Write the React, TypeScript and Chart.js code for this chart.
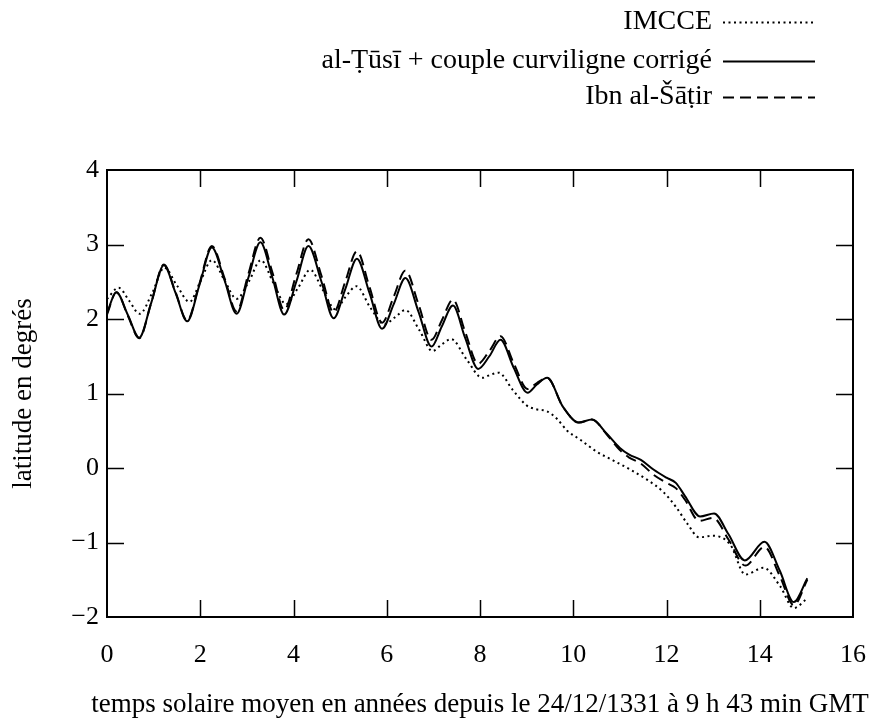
import React, { useEffect, useRef } from 'react';
import { Chart, registerables } from 'chart.js';

Chart.register(...registerables);

// ---- Data ----
const xTickValues = [0, 2, 4, 6, 8, 10, 12, 14, 16];
const yTickValues = [-2, -1, 0, 1, 2, 3, 4];

const seriesLabels = ['IMCCE', 'al-Ṭūsī + couple curviligne corrigé', 'Ibn al-Šāṭir'];

const imcceYears = [0.0, 0.25, 0.47, 0.7, 0.97, 1.23, 1.5, 1.77, 2.0, 2.25, 2.52, 2.78, 3.04, 3.3, 3.57, 3.84, 4.1, 4.36, 4.62, 4.9, 5.12, 5.35, 5.65, 5.95, 6.17, 6.4, 6.7, 6.98, 7.18, 7.38, 7.72, 8.05, 8.22, 8.4, 8.7, 9.0, 9.2, 9.44, 9.65, 9.87, 10.15, 10.5, 10.86, 11.22, 11.59, 11.93, 12.2, 12.45, 12.7, 13.0, 13.37, 13.69, 14.08, 14.44, 14.73, 15.02];
const imcceLat = [2.27, 2.42, 2.25, 2.07, 2.35, 2.69, 2.45, 2.23, 2.5, 2.79, 2.52, 2.27, 2.5, 2.79, 2.48, 2.2, 2.42, 2.66, 2.4, 2.13, 2.3, 2.44, 2.15, 1.93, 2.02, 2.12, 1.85, 1.57, 1.66, 1.73, 1.45, 1.21, 1.25, 1.28, 1.05, 0.84, 0.79, 0.76, 0.66, 0.5, 0.38, 0.22, 0.1, -0.02, -0.16, -0.32, -0.52, -0.75, -0.93, -0.91, -1.03, -1.43, -1.34, -1.59, -1.88, -1.75];

const tusiYears = [0.0, 0.2, 0.45, 0.69, 0.95, 1.22, 1.47, 1.72, 1.98, 2.25, 2.52, 2.78, 3.03, 3.29, 3.55, 3.8, 4.06, 4.32, 4.6, 4.86, 5.11, 5.36, 5.63, 5.9, 6.15, 6.4, 6.68, 6.96, 7.18, 7.42, 7.68, 7.96, 8.2, 8.44, 8.72, 9.02, 9.22, 9.44, 9.78, 10.12, 10.4, 10.72, 11.0, 11.2, 11.45, 11.72, 12.0, 12.2, 12.4, 12.72, 13.02, 13.33, 13.68, 14.1, 14.43, 14.73, 15.02];
const tusiLat = [2.08, 2.36, 2.05, 1.75, 2.22, 2.72, 2.35, 1.97, 2.45, 2.96, 2.52, 2.07, 2.55, 3.03, 2.55, 2.06, 2.5, 2.98, 2.5, 2.01, 2.4, 2.81, 2.35, 1.87, 2.2, 2.55, 2.1, 1.63, 1.9, 2.18, 1.75, 1.33, 1.5, 1.72, 1.35, 1.01, 1.12, 1.21, 0.82, 0.61, 0.65, 0.46, 0.27, 0.18, 0.11, -0.02, -0.13, -0.2, -0.38, -0.65, -0.61, -0.89, -1.24, -0.99, -1.38, -1.8, -1.48];

const shatirYears = [0.0, 0.2, 0.45, 0.69, 0.95, 1.22, 1.47, 1.72, 1.98, 2.25, 2.52, 2.78, 3.03, 3.29, 3.55, 3.8, 4.06, 4.32, 4.6, 4.86, 5.11, 5.36, 5.63, 5.9, 6.15, 6.4, 6.68, 6.96, 7.18, 7.42, 7.68, 7.96, 8.2, 8.44, 8.72, 9.02, 9.22, 9.44, 9.78, 10.12, 10.4, 10.72, 11.0, 11.2, 11.45, 11.72, 12.0, 12.2, 12.4, 12.7, 13.0, 13.33, 13.69, 14.1, 14.43, 14.73, 15.02];
const shatirLat = [2.06, 2.36, 2.04, 1.74, 2.22, 2.73, 2.36, 1.98, 2.47, 2.98, 2.55, 2.1, 2.6, 3.09, 2.62, 2.12, 2.6, 3.07, 2.58, 2.09, 2.5, 2.91, 2.43, 1.95, 2.3, 2.65, 2.2, 1.72, 1.98, 2.26, 1.83, 1.4, 1.57, 1.77, 1.41, 1.06, 1.14, 1.21, 0.82, 0.61, 0.65, 0.45, 0.24, 0.14, 0.06, -0.09, -0.2, -0.27, -0.43, -0.71, -0.67, -0.96, -1.31, -1.06, -1.45, -1.84, -1.5];

const xTitle = 'temps solaire moyen en années depuis le 24/12/1331 à 9 h 43 min GMT';
const yTitle = 'latitude en degrés';

const FONT = '"Liberation Serif", "DejaVu Serif", serif';
const TEXT_SIZE = 27;
const LEGEND_SIZE = 28;
const TICK_SIZE = 26;
const W = 877;
const H = 722;

function toPoints(xs: number[], ys: number[]) {
  return xs.map((x, i) => ({ x, y: ys[i] }));
}

export default function App() {
  const ref = useRef<HTMLCanvasElement | null>(null);

  useEffect(() => {
    if (!ref.current) return;

    const framePlugin = {
      id: 'gnuplotFrame',
      afterDatasetsDraw(chart: any) {
        const { ctx, chartArea: a, scales } = chart;
        const xs = scales.x;
        const ys = scales.y;
        const tl = 17;
        ctx.save();
        ctx.strokeStyle = '#000';
        ctx.lineWidth = 1.5;
        ctx.beginPath();
        xTickValues.forEach((v) => {
          const px = Math.round(xs.getPixelForValue(v)) + 0.5;
          if (v === xs.min || v === xs.max) return;
          ctx.moveTo(px, a.bottom);
          ctx.lineTo(px, a.bottom - tl);
          ctx.moveTo(px, a.top);
          ctx.lineTo(px, a.top + tl);
        });
        yTickValues.forEach((v) => {
          const py = Math.round(ys.getPixelForValue(v)) + 0.5;
          if (v === ys.min || v === ys.max) return;
          ctx.moveTo(a.left, py);
          ctx.lineTo(a.left + tl, py);
          ctx.moveTo(a.right, py);
          ctx.lineTo(a.right - tl, py);
        });
        ctx.stroke();
        ctx.lineWidth = 2;
        ctx.strokeRect(a.left, a.top, a.right - a.left, a.bottom - a.top);

        // axis titles
        ctx.fillStyle = '#000';
        ctx.font = `${TEXT_SIZE}px ${FONT}`;
        ctx.textAlign = 'center';
        ctx.textBaseline = 'middle';
        ctx.fillText(xTitle, (a.left + a.right) / 2, 705);
        ctx.save();
        ctx.translate(24, (a.top + a.bottom) / 2);
        ctx.rotate(-Math.PI / 2);
        ctx.fillText(yTitle, 0, 0);
        ctx.restore();

        // legend (gnuplot style: text right-aligned, sample on the right)
        ctx.font = `${LEGEND_SIZE}px ${FONT}`;
        const rows = [22, 61, 97];
        chart.data.datasets.forEach((ds: any, i: number) => {
          const y = rows[i];
          ctx.textAlign = 'right';
          ctx.textBaseline = 'middle';
          ctx.fillText(ds.label, 712, y);
          ctx.beginPath();
          ctx.setLineDash(ds.borderDash || []);
          ctx.lineWidth = ds.borderWidth;
          ctx.moveTo(723, y + 0.5);
          ctx.lineTo(815, y + 0.5);
          ctx.stroke();
          ctx.setLineDash([]);
        });
        ctx.restore();
      },
    };

    const chart = new Chart(ref.current, {
      type: 'line',
      data: {
        datasets: [
          {
            label: seriesLabels[0],
            data: toPoints(imcceYears, imcceLat),
            borderColor: '#000',
            borderWidth: 2,
            borderDash: [2, 3.5],
            pointRadius: 0,
            cubicInterpolationMode: 'monotone',
            fill: false,
          },
          {
            label: seriesLabels[1],
            data: toPoints(tusiYears, tusiLat),
            borderColor: '#000',
            borderWidth: 2,
            pointRadius: 0,
            cubicInterpolationMode: 'monotone',
            fill: false,
          },
          {
            label: seriesLabels[2],
            data: toPoints(shatirYears, shatirLat),
            borderColor: '#000',
            borderWidth: 2,
            borderDash: [11, 6],
            pointRadius: 0,
            cubicInterpolationMode: 'monotone',
            fill: false,
          },
        ],
      },
      options: {
        animation: false,
        responsive: false,
        maintainAspectRatio: false,
        devicePixelRatio: 1,
        layout: { autoPadding: false, padding: { top: 170, right: 24, left: 0, bottom: 0 } },
        plugins: { legend: { display: false }, tooltip: { enabled: false } },
        scales: {
          x: {
            type: 'linear',
            min: 0,
            max: 16,
            grid: { display: false, drawTicks: true, tickLength: 23 },
            border: { display: false },
            ticks: {
              stepSize: 2,
              padding: 0,
              color: '#000',
              font: { family: FONT, size: TICK_SIZE },
            },
            afterFit: (s: any) => {
              s.height = 105;
            },
          },
          y: {
            type: 'linear',
            min: -2,
            max: 4,
            grid: { display: false, drawTicks: true, tickLength: 8 },
            border: { display: false },
            ticks: {
              stepSize: 1,
              padding: 0,
              color: '#000',
              font: { family: FONT, size: TICK_SIZE },
              callback: (v: any) => (v < 0 ? '\u2212' + Math.abs(v) : String(v)),
            },
            afterFit: (s: any) => {
              s.width = 107;
            },
          },
        },
      },
      plugins: [framePlugin],
    });

    return () => chart.destroy();
  }, []);

  return (
    <div style={{ position: 'absolute', left: 0, top: 0, width: W, height: H }}>
      <canvas ref={ref} width={W} height={H} style={{ width: W, height: H, display: 'block' }} />
    </div>
  );
}
